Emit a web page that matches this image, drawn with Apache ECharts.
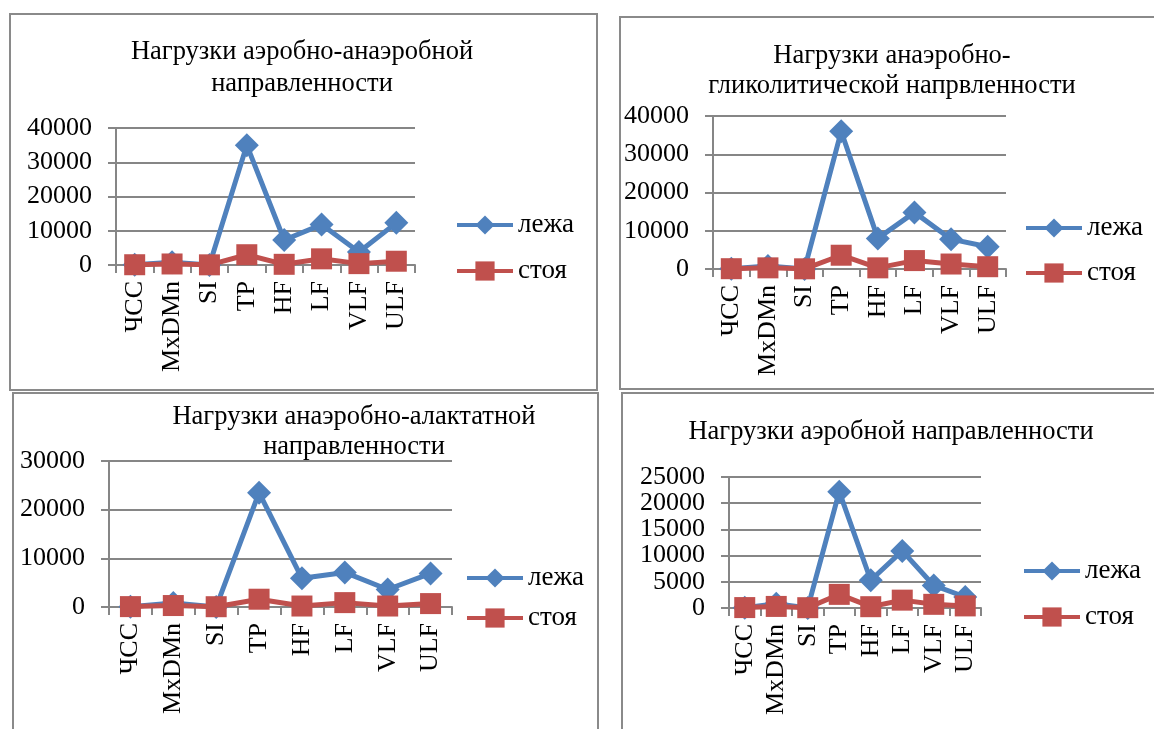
<!DOCTYPE html>
<html>
<head>
<meta charset="utf-8">
<script src="https://cdn.jsdelivr.net/npm/echarts@6/dist/echarts.min.js"></script>
<style>
html,body{margin:0;padding:0;background:#fff;}
#c{width:1154px;height:729px;}
</style>
</head>
<body>
<div id="c"></div>
<script>
// ---- data ----
const categories = ['ЧСС', 'MxDMn', 'SI', 'TP', 'HF', 'LF', 'VLF', 'ULF'];
const seriesNames = ['лежа', 'стоя'];

const titles = [
  'Нагрузки аэробно-анаэробной\nнаправленности',
  'Нагрузки анаэробно-\nгликолитической напрвленности',
  'Нагрузки анаэробно-алактатной\nнаправленности',
  'Нагрузки аэробной направленности'
];

// chart 1: аэробно-анаэробной
const lying1 = [70, 800, 10, 35000, 7300, 11800, 3800, 12300];
const standing1 = [80, 300, 50, 3000, 200, 1800, 400, 1100];
// chart 2: анаэробно-гликолитической
const lying2 = [70, 800, 10, 36000, 8000, 14800, 7800, 5800];
const standing2 = [80, 300, 50, 3600, 300, 2200, 1300, 600];
// chart 3: анаэробно-алактатной
const lying3 = [70, 800, 10, 23500, 5900, 7100, 3600, 6900];
const standing3 = [80, 300, 60, 1600, 200, 900, 200, 700];
// chart 4: аэробной
const lying4 = [70, 800, 10, 22200, 5300, 10900, 4300, 2100];
const standing4 = [80, 300, 60, 2600, 250, 1500, 700, 400];

const yMax = [40000, 40000, 30000, 25000];
const yInterval = [10000, 10000, 10000, 5000];

// ---- layout ----
const FONT = 'Liberation Serif';
const BLUE = '#4F81BD', RED = '#C0504D', GRAY = '#868686';

const grids = [
  {left: 116, top: 128, width: 299, height: 137},
  {left: 713, top: 116, width: 293, height: 153},
  {left: 109, top: 461, width: 343, height: 146},
  {left: 729, top: 477, width: 252, height: 131}
];
const titlePos = [
  {left: 297, top: 31, lh: 32},
  {left: 887, top: 36, lh: 30},
  {left: 349, top: 397, lh: 30},
  {left: 886, top: 412, lh: 30}
];
const legendPos = [
  {left: 455, top: 211, gap: 18},
  {left: 1024, top: 214, gap: 17},
  {left: 465, top: 564, gap: 12},
  {left: 1022, top: 557, gap: 18}
];
const boxes = [
  {x: 10, y: 14, w: 587, h: 376},
  {x: 620, y: 17, w: 545, h: 372},
  {x: 13, y: 393, w: 585, h: 345},
  {x: 622, y: 393, w: 545, h: 345}
];

const lyingData = [lying1, lying2, lying3, lying4];
const standingData = [standing1, standing2, standing3, standing4];

const option = {
  backgroundColor: '#fff',
  animation: false,
  title: titles.map((t, i) => ({
    text: t,
    left: titlePos[i].left,
    top: titlePos[i].top,
    textAlign: 'center',
    textStyle: {fontFamily: FONT, fontSize: 26.5, fontWeight: 'normal', color: '#000', lineHeight: titlePos[i].lh}
  })),
  legend: legendPos.map((p) => ({
    data: seriesNames,
    orient: 'vertical',
    left: p.left,
    top: p.top,
    padding: 0,
    itemGap: p.gap,
    itemWidth: 56,
    itemHeight: 24,
    lineStyle: {width: 4},
    textStyle: {fontFamily: FONT, fontSize: 27, color: '#000', lineHeight: 28},
    selectedMode: false
  })),
  grid: grids.map(g => Object.assign({containLabel: false}, g)),
  xAxis: grids.map((g, i) => ({
    type: 'category',
    gridIndex: i,
    data: categories,
    boundaryGap: true,
    axisLine: {lineStyle: {color: GRAY, width: 2}},
    axisTick: {show: true, length: 8, lineStyle: {color: GRAY, width: 2}},
    axisLabel: {rotate: 90, interval: 0, margin: 16, fontFamily: FONT, fontSize: 26, color: '#000'}
  })),
  yAxis: grids.map((g, i) => ({
    type: 'value',
    gridIndex: i,
    min: 0,
    max: yMax[i],
    interval: yInterval[i],
    axisLine: {show: true, lineStyle: {color: GRAY, width: 2}},
    axisTick: {show: true, length: 8, lineStyle: {color: GRAY, width: 2}},
    splitLine: {show: true, lineStyle: {color: GRAY, width: 2}},
    axisLabel: {margin: 24, fontFamily: FONT, fontSize: 26, color: '#000', formatter: (v) => String(v)}
  })),
  series: [],
  graphic: boxes.map(b => ({
    type: 'rect',
    shape: {x: b.x, y: b.y, width: b.w, height: b.h},
    style: {fill: 'none', stroke: '#8a8a8a', lineWidth: 2},
    silent: true,
    z: 100
  }))
};

for (let i = 0; i < 4; i++) {
  option.series.push({
    name: seriesNames[0],
    type: 'line',
    xAxisIndex: i, yAxisIndex: i,
    data: lyingData[i],
    symbol: 'diamond',
    symbolSize: 24,
    lineStyle: {color: BLUE, width: 5},
    itemStyle: {color: BLUE},
    z: 2
  });
  option.series.push({
    name: seriesNames[1],
    type: 'line',
    xAxisIndex: i, yAxisIndex: i,
    data: standingData[i],
    symbol: 'rect',
    symbolSize: 21,
    lineStyle: {color: RED, width: 5},
    itemStyle: {color: RED},
    z: 3
  });
}

const chart = echarts.init(document.getElementById('c'), null, {renderer: 'canvas'});
chart.setOption(option);
</script>
</body>
</html>
